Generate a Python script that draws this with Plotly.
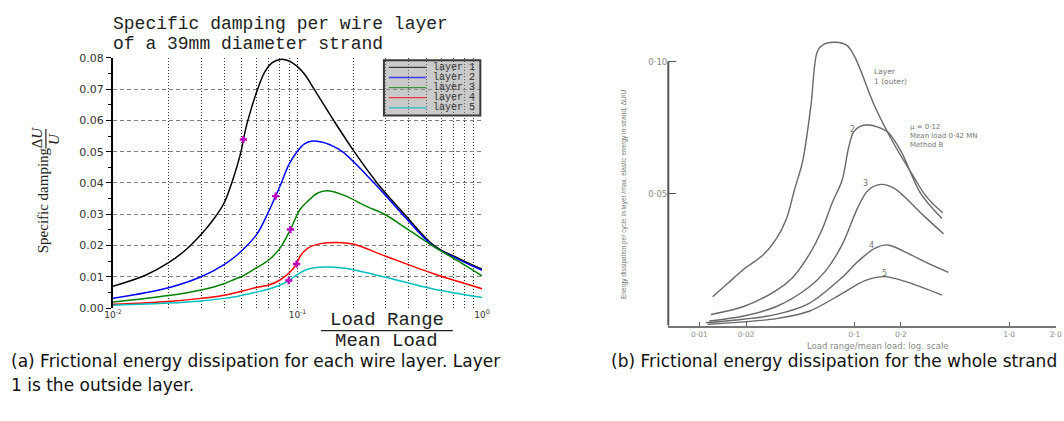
import plotly.graph_objects as go

W, H = 1064, 421

# ---------------- panel (a): specific damping per wire layer ----------------
layer_names = ["layer 1", "layer 2", "layer 3", "layer 4", "layer 5"]
layer_colors = ["#000000", "#0000ff", "#008000", "#ff0000", "#00bfbf"]

l1_x = [0.01, 0.015, 0.02, 0.025, 0.03, 0.035, 0.04, 0.044, 0.0494, 0.0509, 0.0538,
        0.0608, 0.0665, 0.073, 0.081, 0.09, 0.1, 0.11, 0.123, 0.157, 0.203, 0.27, 0.38,
        0.55, 0.75, 1.0]
l1_y = [0.0070, 0.0105, 0.0145, 0.0188, 0.0235, 0.0283, 0.0336, 0.0400, 0.0500, 0.0539, 0.0600,
        0.0700, 0.0755, 0.0785, 0.0795, 0.0790, 0.0772, 0.0745, 0.0700, 0.0600, 0.0500, 0.0400, 0.0300,
        0.0200, 0.0158, 0.0124]

l2_x = [0.01, 0.02, 0.03, 0.04, 0.046, 0.05, 0.06, 0.0693, 0.0761, 0.0817, 0.09, 0.0994, 0.109,
        0.1204, 0.135, 0.15, 0.175, 0.26, 0.37, 0.54, 0.75, 1.0]
l2_y = [0.0031, 0.0065, 0.0100, 0.0139, 0.0165, 0.0184, 0.0235, 0.0305, 0.0358, 0.0400, 0.0460, 0.0500, 0.0525,
        0.0534, 0.0531, 0.0522, 0.0500, 0.0400, 0.0300, 0.0200, 0.0155, 0.0121]

l3_x = [0.01, 0.02, 0.03, 0.04, 0.046, 0.05, 0.06, 0.0693, 0.0802, 0.0915, 0.097, 0.1031,
        0.1133, 0.128, 0.1447, 0.178, 0.2366, 0.296, 0.4, 0.537, 0.743, 1.0]
l3_y = [0.0019, 0.0040, 0.0058, 0.0078, 0.0093, 0.0101, 0.0129, 0.0152, 0.0191, 0.0251, 0.0284, 0.0315,
        0.0341, 0.0367, 0.0375, 0.0361, 0.0325, 0.0300, 0.0250, 0.0200, 0.0150, 0.0103]

l4_x = [0.01, 0.02, 0.03, 0.04, 0.05, 0.06, 0.07, 0.08, 0.09, 0.0989, 0.1031, 0.1133,
        0.1334, 0.1637, 0.2, 0.303, 0.558, 1.0]
l4_y = [0.0012, 0.0021, 0.0031, 0.0041, 0.0054, 0.0066, 0.0074, 0.0089, 0.0112, 0.0141, 0.0165, 0.0191,
        0.0206, 0.0210, 0.0205, 0.0165, 0.0108, 0.0062]

l5_x = [0.01, 0.02, 0.03, 0.04, 0.046, 0.05, 0.06, 0.0693, 0.08, 0.0897, 0.1, 0.1133,
        0.139, 0.18, 0.303, 0.537, 1.0]
l5_y = [0.0009, 0.0016, 0.0023, 0.0031, 0.0036, 0.0041, 0.0051, 0.0060, 0.0073, 0.0088, 0.0108, 0.0124,
        0.0131, 0.0127, 0.0098, 0.0062, 0.0034]

# transition points marked on each layer curve
trans_x = [0.0509, 0.0761, 0.0915, 0.0989, 0.0897]
trans_y = [0.0539, 0.0358, 0.0251, 0.0141, 0.0088]

a_major = [0.01, 0.1, 1.0]
a_major_text = ["10<sup>-2</sup>", "10<sup>-1</sup>", "10<sup>0</sup>"]
a_minor = [m * d for d in (0.01, 0.1) for m in range(2, 10)]
a_yticks = [0.0, 0.01, 0.02, 0.03, 0.04, 0.05, 0.06, 0.07, 0.08]
a_yminor = [0.005, 0.015, 0.025, 0.035, 0.045, 0.055, 0.065, 0.075]

# ---------------- panel (b): whole strand, per layer ----------------
b_labels = ["Layer<br>1 (outer)", "2", "3", "4", "5"]
b1_x = [0.01215, 0.01512, 0.01931, 0.02586, 0.0314, 0.03636, 0.0410, 0.0464, 0.0524, 0.0578,
        0.0637, 0.0755, 0.0896, 0.1012, 0.1355, 0.1815, 0.243, 0.2816, 0.326, 0.373]
b1_y = [0.0110, 0.0159, 0.0214, 0.0269, 0.0330, 0.0403, 0.0513, 0.0623, 0.0831, 0.1039,
        0.1066, 0.1073, 0.1061, 0.1015, 0.0831, 0.0685, 0.0562, 0.0501, 0.0458, 0.0428]
b2_x = [0.01185, 0.0193, 0.0314, 0.040, 0.0511, 0.0622, 0.0719, 0.0833, 0.0917, 0.0987,
        0.1089, 0.1229, 0.1422, 0.1646, 0.2003, 0.268, 0.368]
b2_y = [0.0043, 0.0073, 0.0134, 0.0183, 0.0269, 0.0367, 0.0465, 0.0550, 0.0672, 0.0733,
        0.0755, 0.0760, 0.0752, 0.0733, 0.0660, 0.0501, 0.0406]
b3_x = [0.01158, 0.0193, 0.0314, 0.0511, 0.0653, 0.0833, 0.1062, 0.1229, 0.1495, 0.1815,
        0.210, 0.2816, 0.377]
b3_y = [0.0018, 0.0037, 0.0073, 0.0147, 0.0208, 0.0306, 0.0452, 0.0513, 0.0535, 0.0520,
        0.0489, 0.0416, 0.0348]
b4_x = [0.01101, 0.0193, 0.0314, 0.0511, 0.0833, 0.1062, 0.1355, 0.1646, 0.2205, 0.2955, 0.4055]
b4_y = [0.0012, 0.0025, 0.0043, 0.0085, 0.0183, 0.0245, 0.0293, 0.0306, 0.0275, 0.0238, 0.0202]
b5_x = [0.0113, 0.0193, 0.0314, 0.0511, 0.0833, 0.1171, 0.1566, 0.2205, 0.368]
b5_y = [0.0006, 0.0015, 0.0027, 0.0055, 0.0122, 0.0171, 0.0186, 0.0165, 0.0116]

b_xticks = [0.01, 0.02, 0.1, 0.2, 1.0, 2.0]
b_xtext = ["0·01", "0·02", "0·1", "0·2", "1·0", "2·0"]
b_yticks = [0.05, 0.10]
b_ytext = ["0·05", "0·10"]


def px(x):
    return x / W


def py(y):
    return 1 - y / H


def label(text, x, y, size, family, color="#222", xanchor="center", angle=0, align="center"):
    return dict(text=text, x=px(x), y=py(y), xref="paper", yref="paper",
                xanchor=xanchor, yanchor="middle", align=align, textangle=angle,
                showarrow=False, font=dict(family=family, size=size, color=color))


fig = go.Figure()

a_curves = [(l1_x, l1_y), (l2_x, l2_y), (l3_x, l3_y), (l4_x, l4_y), (l5_x, l5_y)]
for (xs, ys), name, col in zip(a_curves, layer_names, layer_colors):
    fig.add_trace(go.Scatter(x=xs, y=ys, mode="lines", name=name,
                             line=dict(color=col, width=1.5, shape="spline", smoothing=1.0),
                             xaxis="x", yaxis="y", showlegend=False))
fig.add_trace(go.Scatter(x=trans_x, y=trans_y, mode="markers",
                         marker=dict(symbol="cross", size=6, color="#c000c0"),
                         xaxis="x", yaxis="y", showlegend=False))

b_curves = [(b1_x, b1_y), (b2_x, b2_y), (b3_x, b3_y), (b4_x, b4_y), (b5_x, b5_y)]
for xs, ys in b_curves:
    fig.add_trace(go.Scatter(x=xs, y=ys, mode="lines",
                             line=dict(color="#686868", width=1.4, shape="spline", smoothing=0.9),
                             xaxis="x2", yaxis="y2", showlegend=False))

cm_font = "Liberation Mono"
annotations = []
shapes = []

# titles and axis labels of panel (a)
annotations.append(label("Specific damping per wire layer", 104, 19, 18, cm_font, xanchor="left"))
annotations.append(label("of a 39mm diameter strand", 104, 39, 18, cm_font, xanchor="left"))
annotations.append(label("Load Range", 384, 323.5, 19, cm_font))
annotations.append(label("Mean Load", 384, 345.5, 19, cm_font))
shapes.append(dict(type="line", xref="paper", yref="paper", x0=px(317), x1=px(451),
                   y0=py(335), y1=py(335), line=dict(color="#222", width=1.2)))
annotations.append(label("Specific damping", 34, 200, 15, "Liberation Serif", angle=-90))
annotations.append(label("Δ<i>U</i>", 28, 136, 15, "Liberation Serif", angle=-90))
annotations.append(label("<i>U</i>", 46, 137, 15, "Liberation Serif", angle=-90))
shapes.append(dict(type="line", xref="paper", yref="paper", x0=px(37.5), x1=px(37.5),
                   y0=py(127), y1=py(147), line=dict(color="#222", width=1.2)))

# legend box of panel (a)
shapes.append(dict(type="rect", xref="paper", yref="paper", x0=px(381), x1=px(479),
                   y0=py(113), y1=py(56), fillcolor="rgba(150,150,150,0.5)",
                   line=dict(color="#3a3a3a", width=2)))
leg_rows = [63.3, 73.8, 84.3, 94.6, 105]
for name, col, yr in zip(layer_names, layer_colors, leg_rows):
    shapes.append(dict(type="line", xref="paper", yref="paper", x0=px(386), x1=px(424),
                       y0=py(yr), y1=py(yr), opacity=0.7, line=dict(color=col, width=1.3)))
    annotations.append(label(name, 476, yr, 10, cm_font, color="#333", xanchor="right"))

# panel (b) labels
gray = "#777"
annotations.append(label(b_labels[0], 877, 73, 7.5, "DejaVu Sans", color=gray,
                         xanchor="left", align="left"))
for lab, (xx, yy) in zip(b_labels[1:], [(857, 127), (870, 183), (876, 247), (890, 276)]):
    annotations.append(label(lab, xx, yy, 8, "DejaVu Sans", color=gray))
annotations.append(label("μ = 0·12<br>Mean load 0·42 MN<br>Method B", 914, 134, 7,
                         "DejaVu Sans", color=gray, xanchor="left", align="left"))
annotations.append(label("Energy dissipation per cycle in layer /max. elastic energy in strand, ΔU/U",
                         625, 195, 6.5, "Liberation Sans", color=gray, angle=-90))
annotations.append(label("Load range/mean load: log. scale", 883, 351, 8.5, "DejaVu Sans",
                         color="#888"))
shapes.append(dict(type="line", xref="x2 domain", yref="y2", x0=0, x1=0, y0=0, y1=0.10,
                   line=dict(color="#555", width=2)))

# captions
annotations.append(label("(a) Frictional energy dissipation for each wire layer. Layer",
                         0, 366, 17, "DejaVu Sans", color="#111", xanchor="left"))
annotations.append(label("1 is the outside layer.", 0, 391, 17, "DejaVu Sans", color="#111",
                         xanchor="left"))
annotations.append(label("(b) Frictional energy dissipation for the whole strand",
                         610, 366, 17, "DejaVu Sans", color="#111", xanchor="left"))

fig.update_layout(
    width=W, height=H, autosize=False,
    margin=dict(l=0, r=0, t=0, b=0),
    paper_bgcolor="white", plot_bgcolor="white",
    showlegend=False,
    xaxis=dict(domain=[px(105.7), px(480.7)], type="log", range=[-2, 0], anchor="y",
               tickvals=a_major, ticktext=a_major_text,
               showgrid=True, gridcolor="#303030", griddash="1px,2px", gridwidth=1,
               minor=dict(tickvals=a_minor, showgrid=True, gridcolor="#303030",
                          griddash="1px,2px", gridwidth=1, ticks=""),
               ticks="", showline=False, zeroline=False,
               tickfont=dict(family="DejaVu Sans", size=9, color="#333")),
    yaxis=dict(domain=[py(311.7), py(53.5)], range=[0, 0.08], anchor="x",
               tickvals=a_yticks, ticktext=[f"{v:.2f}" for v in a_yticks],
               showline=True, linecolor="black", linewidth=2,
               ticks="outside", ticklen=5, tickcolor="black",
               minor=dict(tickvals=a_yminor, ticks="outside", ticklen=3, tickcolor="black",
                          showgrid=False),
               showgrid=True, gridcolor="#808080", griddash="4px,3px", gridwidth=1,
               zeroline=False,
               tickfont=dict(family="DejaVu Sans", size=11, color="#333")),
    xaxis2=dict(domain=[px(670), 1.0], type="log", range=[-2.2013, 0.3025], anchor="y2",
                tickvals=b_xticks, ticktext=b_xtext, ticks="inside", ticklen=4,
                tickcolor="#666", showline=True, linecolor="#777", linewidth=1.5,
                showgrid=False, zeroline=False, ticklabelstandoff=0,
                tickfont=dict(family="DejaVu Sans", size=7.5, color="#888")),
    yaxis2=dict(domain=[py(330), py(16.4)], range=[0, 0.115], anchor="x2",
                tickvals=b_yticks, ticktext=b_ytext, ticks="inside", ticklen=8,
                tickcolor="#555", showline=False, showgrid=False, zeroline=False,
                tickfont=dict(family="DejaVu Sans", size=8.5, color="#888")),
    annotations=annotations,
    shapes=shapes,
)

fig.write_html("out.html")
